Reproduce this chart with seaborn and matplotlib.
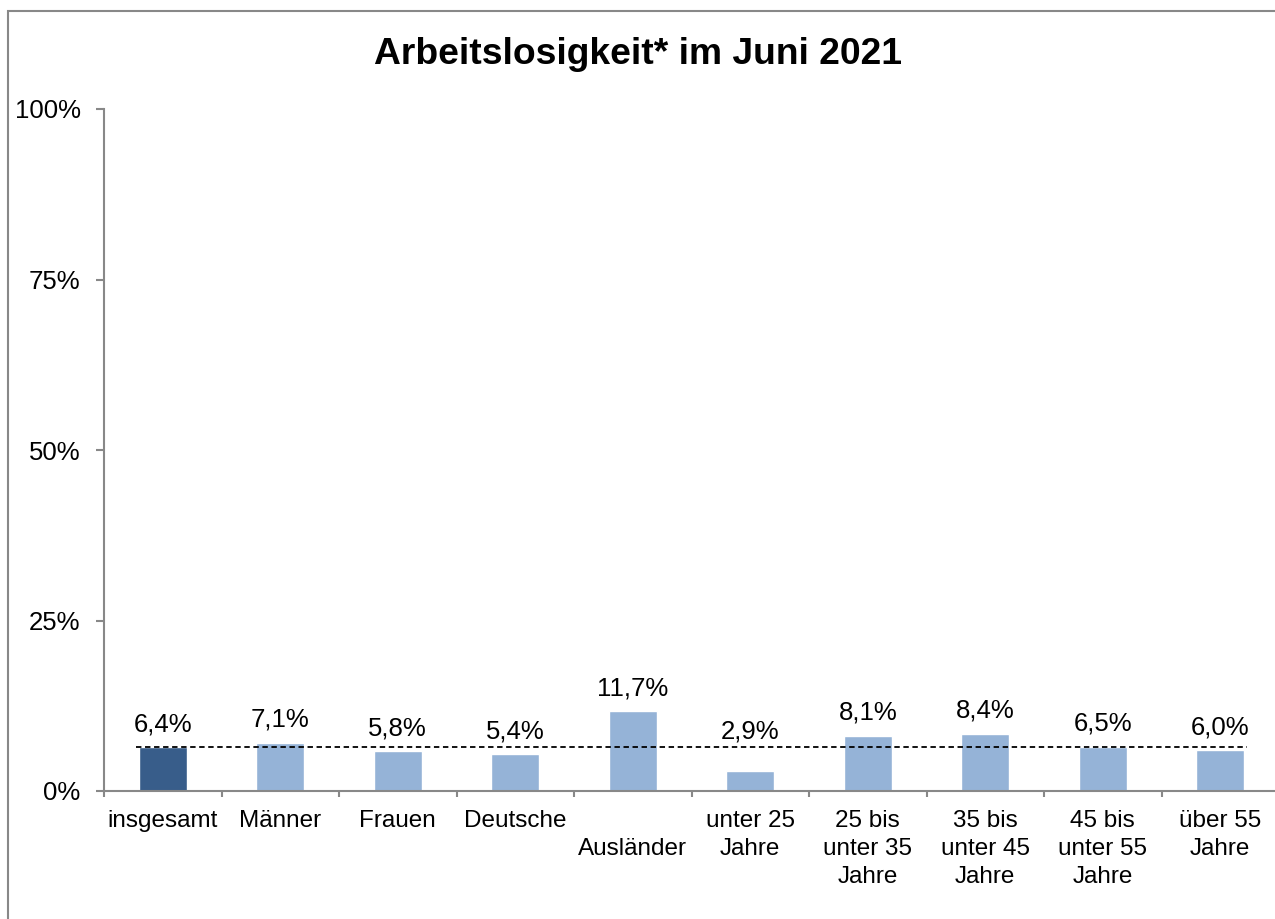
import seaborn as sns
import matplotlib.pyplot as plt
from matplotlib.patches import Rectangle
import pandas as pd

categories = ["insgesamt", "Männer", "Frauen", "Deutsche", "\nAusländer",
              "unter 25\nJahre", "25 bis\nunter 35\nJahre", "35 bis\nunter 45\nJahre",
              "45 bis\nunter 55\nJahre", "über 55\nJahre"]
values = [6.4, 7.1, 5.8, 5.4, 11.7, 2.9, 8.1, 8.4, 6.5, 6.0]
bar_colors = ["#385D8A"] + ["#95B3D7"] * 9
average = 6.4
y_ticks = [0, 25, 50, 75, 100]

sns.set_style("white")
plt.rcParams['font.family'] = ['Liberation Sans', 'DejaVu Sans']
plt.rcParams['text.color'] = 'black'
plt.rcParams['xtick.labelcolor'] = 'black'
plt.rcParams['ytick.labelcolor'] = 'black'

df = pd.DataFrame({"kat": categories, "wert": values})

fig = plt.figure(figsize=(12.75, 9.19), dpi=100)
ax = fig.add_axes([104 / 1275, 1 - 791 / 919, 1175 / 1275, (791 - 109) / 919])

sns.barplot(data=df, x="kat", y="wert", hue="kat", palette=bar_colors,
            legend=False, width=0.41, ax=ax, saturation=1)

# Durchschnittslinie
ax.plot([-0.23, len(values) - 1 + 0.23], [average, average], color="black",
        linestyle=(0, (3, 2)), linewidth=1.3)

for i, v in enumerate(values):
    # Beschriftung nicht unter die Linie rutschen lassen
    base = v if v >= average else max(v, average - 1.0)
    ax.text(i, base + 1.6, f"{v:.1f}%".replace(".", ","), ha="center", va="bottom",
            fontsize=18.5)

ax.set_xlim(-0.5, len(values) - 0.5)
ax.set_ylim(0, 100)
ax.set_yticks(y_ticks)
ax.set_yticklabels([f"{t}%" for t in y_ticks])
ax.set_xlabel("")
ax.set_ylabel("")

# x-Ticks zwischen den Kategorien, Labels in der Mitte
ax.set_xticks([i - 0.5 for i in range(len(values) + 1)])
ax.set_xticklabels([])
ax.set_xticks(range(len(values)), minor=True)
ax.set_xticklabels(categories, minor=True, fontsize=17.5, linespacing=1.35)
ax.tick_params(axis="x", which="major", direction="out", length=4.5, width=1.5, color="#888888")
ax.tick_params(axis="x", which="minor", length=0, pad=14)
ax.tick_params(axis="y", direction="out", length=5.8, width=1.5, color="#888888",
               labelsize=18.5, pad=11)
ax.yaxis.set_ticks_position("left")
ax.xaxis.set_ticks_position("bottom")

for s in ["top", "right"]:
    ax.spines[s].set_visible(False)
for s in ["left", "bottom"]:
    ax.spines[s].set_color("#888888")
    ax.spines[s].set_linewidth(1.5)

fig.text(0.5, 1 - 54 / 919, "Arbeitslosigkeit* im Juni 2021", ha="center", va="center",
         fontsize=26.8, fontweight="bold")

# Rahmen um das Diagramm
fig.patches.append(Rectangle((8 / 1275, -0.05), 1.1, 1.05 - 11 / 919, transform=fig.transFigure,
                             fill=False, edgecolor="#888888", linewidth=1.5))

fig.savefig("out.png", dpi=100)
